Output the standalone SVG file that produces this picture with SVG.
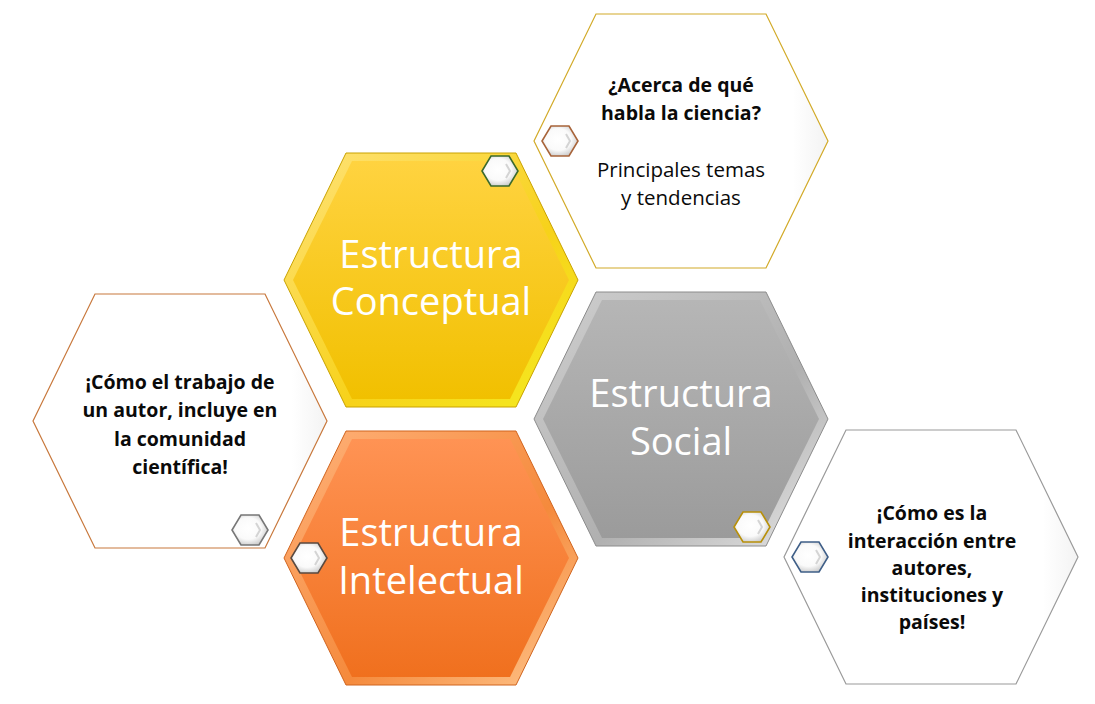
<svg xmlns="http://www.w3.org/2000/svg" xmlns:xlink="http://www.w3.org/1999/xlink" width="1095" height="704" viewBox="0 0 1095 704">
<style>
.big{font-family:"Open Sans","Liberation Sans",sans-serif;font-size:38px;fill:#ffffff;text-anchor:middle}
.bold{font-family:"Open Sans","Liberation Sans",sans-serif;font-size:19.5px;font-weight:bold;fill:#0a0a0a;text-anchor:middle}
.reg{font-family:"Open Sans","Liberation Sans",sans-serif;font-size:20.5px;fill:#0a0a0a;text-anchor:middle}
.whitehex{fill:url(#gWhite);stroke-width:1.2}
.small{fill:url(#gSmall);stroke-width:1.6}
.chev{fill:none;stroke:#d4d4d4;stroke-width:2}
</style>
<defs>
<polygon id="hex" points="-85,-127 85,-127 147,0 85,127 -85,127 -147,0"/>
<polygon id="hexIn" points="-79,-119 79,-119 138,0 79,119 -79,119 -138,0"/>
<polygon id="sh" points="-9,-15 9,-15 18,0 9,15 -9,15 -18,0"/>
<linearGradient id="gWhite" x1="0" y1="0" x2="1" y2="0">
<stop offset="0" stop-color="#ffffff"/><stop offset="0.88" stop-color="#ffffff"/><stop offset="1" stop-color="#f3f3f3"/>
</linearGradient>
<radialGradient id="gSmall" cx="0.45" cy="0.45" r="0.6">
<stop offset="0" stop-color="#ffffff"/><stop offset="0.6" stop-color="#fafafa"/><stop offset="1" stop-color="#c8c8c8"/>
</radialGradient>
<linearGradient id="yBev" x1="0" y1="0" x2="1" y2="1">
<stop offset="0" stop-color="#ffe27a"/><stop offset="0.6" stop-color="#f7d21a"/><stop offset="1" stop-color="#f4ec20"/>
</linearGradient>
<linearGradient id="yIn" x1="0" y1="0" x2="0" y2="1">
<stop offset="0" stop-color="#ffd340"/><stop offset="1" stop-color="#f1c000"/>
</linearGradient>
<linearGradient id="gBev" x1="0" y1="0" x2="1" y2="1">
<stop offset="0" stop-color="#cfcfcf"/><stop offset="0.6" stop-color="#b0b0b0"/><stop offset="1" stop-color="#e6e6e6"/>
</linearGradient>
<linearGradient id="gIn" x1="0" y1="0" x2="0" y2="1">
<stop offset="0" stop-color="#b6b6b6"/><stop offset="1" stop-color="#9b9b9b"/>
</linearGradient>
<linearGradient id="oBev" x1="0" y1="0" x2="1" y2="1">
<stop offset="0" stop-color="#ffb27a"/><stop offset="0.6" stop-color="#f58a3c"/><stop offset="1" stop-color="#ffc890"/>
</linearGradient>
<linearGradient id="oIn" x1="0" y1="0" x2="0" y2="1">
<stop offset="0" stop-color="#ff9354"/><stop offset="1" stop-color="#f0701e"/>
</linearGradient>
</defs>

<g id="connectors"></g>

<g id="node-conceptual">
<use xlink:href="#hex" transform="translate(431,280)" fill="url(#yBev)" stroke="#c9a200" stroke-width="1"/>
<use xlink:href="#hexIn" transform="translate(431,280)" fill="url(#yIn)"/>
<text class="big" x="431" y="268">Estructura</text>
<text class="big" x="431" y="315">Conceptual</text>
<use xlink:href="#sh" transform="translate(500,171)" class="small" stroke="#3b6a2c"/>
<polyline class="chev" points="506,164 510,171 506,178"/>
</g>

<g id="node-social">
<use xlink:href="#hex" transform="translate(681,419)" fill="url(#gBev)" stroke="#8c8c8c" stroke-width="1"/>
<use xlink:href="#hexIn" transform="translate(681,419)" fill="url(#gIn)"/>
<text class="big" x="681" y="407">Estructura</text>
<text class="big" x="681" y="455">Social</text>
<use xlink:href="#sh" transform="translate(752,527)" class="small" stroke="#b8900a"/>
<polyline class="chev" points="758,520 762,527 758,534"/>
</g>

<g id="node-intelectual">
<use xlink:href="#hex" transform="translate(431,558)" fill="url(#oBev)" stroke="#d0641e" stroke-width="1"/>
<use xlink:href="#hexIn" transform="translate(431,558)" fill="url(#oIn)"/>
<text class="big" x="431" y="546">Estructura</text>
<text class="big" x="431" y="594">Intelectual</text>
<use xlink:href="#sh" transform="translate(309,558)" class="small" stroke="#5a4a40"/>
<polyline class="chev" points="315,551 319,558 315,565"/>
</g>

<g id="node-temas">
<use xlink:href="#hex" transform="translate(681,141)" class="whitehex" stroke="#d2aa28"/>
<text class="bold" x="681" y="92">¿Acerca de qué</text>
<text class="bold" x="681" y="120">habla la ciencia?</text>
<text class="reg" x="681" y="177">Principales temas</text>
<text class="reg" x="681" y="205">y tendencias</text>
<use xlink:href="#sh" transform="translate(560,141)" class="small" stroke="#a8643a"/>
<polyline class="chev" points="566,134 570,141 566,148"/>
</g>

<g id="node-autor">
<use xlink:href="#hex" transform="translate(180,421)" class="whitehex" stroke="#c8783c"/>
<text class="bold" x="180" y="389">¡Cómo el trabajo de</text>
<text class="bold" x="180" y="417">un autor, incluye en</text>
<text class="bold" x="180" y="446">la comunidad</text>
<text class="bold" x="180" y="474">científica!</text>
<use xlink:href="#sh" transform="translate(250,530)" class="small" stroke="#777777"/>
<polyline class="chev" points="256,523 260,530 256,537"/>
</g>

<g id="node-interaccion">
<use xlink:href="#hex" transform="translate(931,557)" class="whitehex" stroke="#9a9a9a"/>
<text class="bold" x="932" y="520">¡Cómo es la</text>
<text class="bold" x="932" y="548">interacción entre</text>
<text class="bold" x="932" y="575">autores,</text>
<text class="bold" x="932" y="602">instituciones y</text>
<text class="bold" x="932" y="629">países!</text>
<use xlink:href="#sh" transform="translate(810,557)" class="small" stroke="#3f5f88"/>
<polyline class="chev" points="816,550 820,557 816,564"/>
</g>
</svg>
